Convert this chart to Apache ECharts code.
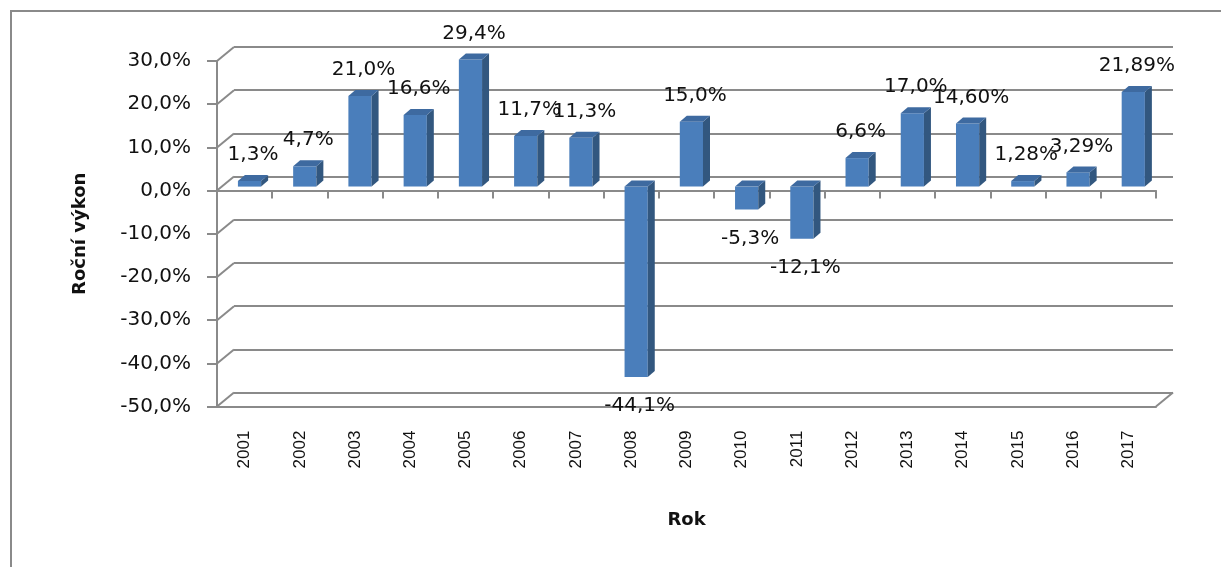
<!DOCTYPE html>
<html><head><meta charset="utf-8">
<script src="https://cdn.jsdelivr.net/npm/echarts@6/dist/echarts.min.js"></script>
<style>html,body{margin:0;padding:0;background:#fff}#c{width:1221px;height:567px}</style>
</head><body><div id="c"></div>
<script>
const years = ['2001','2002','2003','2004','2005','2006','2007','2008','2009','2010','2011','2012','2013','2014','2015','2016','2017'];
const values = [1.3, 4.7, 21.0, 16.6, 29.4, 11.7, 11.3, -44.1, 15.0, -5.3, -12.1, 6.6, 17.0, 14.60, 1.28, 3.29, 21.89];
const valueLabels = ['1,3%','4,7%','21,0%','16,6%','29,4%','11,7%','11,3%','-44,1%','15,0%','-5,3%','-12,1%','6,6%','17,0%','14,60%','1,28%','3,29%','21,89%'];
const yTicks = [-50,-40,-30,-20,-10,0,10,20,30];
const yMin = -50, yMax = 30, yStep = 10;
const yTitle = 'Roční výkon';
const xTitle = 'Rok';

const GRID_FRONT = {left: 217, right: 65, top: 61, bottom: 160.4};
const DEPTH = {dx: 17, dy: -14};
const GRID_BACK = {left: GRID_FRONT.left + DEPTH.dx, right: GRID_FRONT.right - DEPTH.dx, top: GRID_FRONT.top + DEPTH.dy, bottom: GRID_FRONT.bottom - DEPTH.dy};
const LINE = '#8a8a8a';
const fmtPct = v => v.toFixed(1).replace('.', ',') + '%';

const chart = echarts.init(document.getElementById('c'), null, {renderer: 'canvas'});

function renderBar(params, api) {
  const i = api.value(0), v = api.value(1);
  const base = api.coord([i, 0]);
  const end = api.coord([i, v]);
  const catW = api.size([1, 0])[0];
  const w = catW * 0.42;
  const ox = 4.9, oy = -4;
  const ddx = 7, ddy = -6;
  const cx = base[0] + ox;
  const x0 = cx - w / 2, x1 = cx + w / 2;
  const yTop = Math.min(base[1], end[1]) + oy;
  const yBot = Math.max(base[1], end[1]) + oy;
  const label = valueLabels[params.dataIndex];
  const lx = cx + ddx / 2;
  const ly = v >= 0 ? yTop + ddy - 20 : yBot + 29;
  return {
    type: 'group',
    children: [
      {type: 'rect', shape: {x: x0, y: yTop, width: w, height: yBot - yTop}, style: {fill: '#4a7ebb'}},
      {type: 'polygon', shape: {points: [[x1, yTop], [x1 + ddx, yTop + ddy], [x1 + ddx, yBot + ddy], [x1, yBot]]}, style: {fill: '#32577f'}},
      {type: 'polygon', shape: {points: [[x0, yTop], [x0 + ddx, yTop + ddy], [x1 + ddx, yTop + ddy], [x1, yTop]]}, style: {fill: '#3e6aa0'}},
      {type: 'text', style: {text: label, x: lx, y: ly, align: 'center', verticalAlign: 'middle', fill: '#111', font: '20px "DejaVu Sans"'}}
    ]
  };
}

function renderDiag(params, api) {
  const v = api.value(1);
  const p = api.coord([0, v]);
  const cs = params.coordSys;
  const kids = [{type: 'line', shape: {x1: cs.x, y1: p[1], x2: cs.x + DEPTH.dx, y2: p[1] + DEPTH.dy}, style: {stroke: LINE, lineWidth: 2}}];
  if (v === yMin) {
    const xr = cs.x + cs.width;
    kids.push({type: 'line', shape: {x1: xr, y1: p[1], x2: xr + DEPTH.dx, y2: p[1] + DEPTH.dy}, style: {stroke: LINE, lineWidth: 2}});
  }
  return {type: 'group', children: kids};
}

chart.setOption({
  animation: false,
  backgroundColor: '#fff',
  graphic: [{type: 'rect', shape: {x: 11, y: 11, width: 1400, height: 800}, style: {fill: 'none', stroke: '#8a8a8a', lineWidth: 2}, z: -10}],
  grid: [
    Object.assign({containLabel: false}, GRID_FRONT),
    Object.assign({containLabel: false}, GRID_BACK)
  ],
  xAxis: [
    {type: 'category', gridIndex: 0, data: years, position: 'bottom', boundaryGap: true,
     axisLine: {onZero: false, lineStyle: {color: LINE, width: 2}},
     axisTick: {show: false},
     axisLabel: {rotate: 90, margin: 24, color: '#111', fontFamily: 'Liberation Sans', fontSize: 17, interval: 0, hideOverlap: false},
     name: xTitle, nameLocation: 'middle', nameGap: 105,
     nameTextStyle: {fontFamily: 'DejaVu Sans', fontWeight: 'bold', fontSize: 18, color: '#111'}},
    {type: 'category', gridIndex: 0, data: years, position: 'top', boundaryGap: true,
     axisLine: {onZero: true, lineStyle: {color: LINE, width: 2}},
     axisTick: {show: true, inside: true, length: 8, interval: 0, lineStyle: {color: LINE, width: 2}},
     axisLabel: {show: false}},
    {type: 'category', gridIndex: 1, data: years, show: false}
  ],
  yAxis: [
    {type: 'value', gridIndex: 0, min: yMin, max: yMax, interval: yStep,
     axisLine: {show: true, onZero: false, lineStyle: {color: LINE, width: 2}},
     axisTick: {show: true, length: 10, lineStyle: {color: LINE, width: 2}},
     axisLabel: {formatter: fmtPct, margin: 26, color: '#111', fontFamily: 'DejaVu Sans', fontSize: 20},
     splitLine: {show: false},
     name: yTitle, nameLocation: 'middle', nameGap: 128, nameRotate: 90,
     nameTextStyle: {fontFamily: 'DejaVu Sans', fontWeight: 'bold', fontSize: 18, color: '#111'}},
    {type: 'value', gridIndex: 1, min: yMin, max: yMax, interval: yStep,
     axisLine: {show: false}, axisTick: {show: false}, axisLabel: {show: false},
     splitLine: {show: true, lineStyle: {color: LINE, width: 2}}}
  ],
  series: [
    {type: 'custom', xAxisIndex: 0, yAxisIndex: 0, renderItem: renderDiag, clip: false, z: 1,
     data: yTicks.map(v => [0, v])},
    {type: 'custom', xAxisIndex: 0, yAxisIndex: 0, renderItem: renderBar, clip: false, z: 3,
     data: values.map((v, i) => [i, v])}
  ]
});
</script></body></html>
